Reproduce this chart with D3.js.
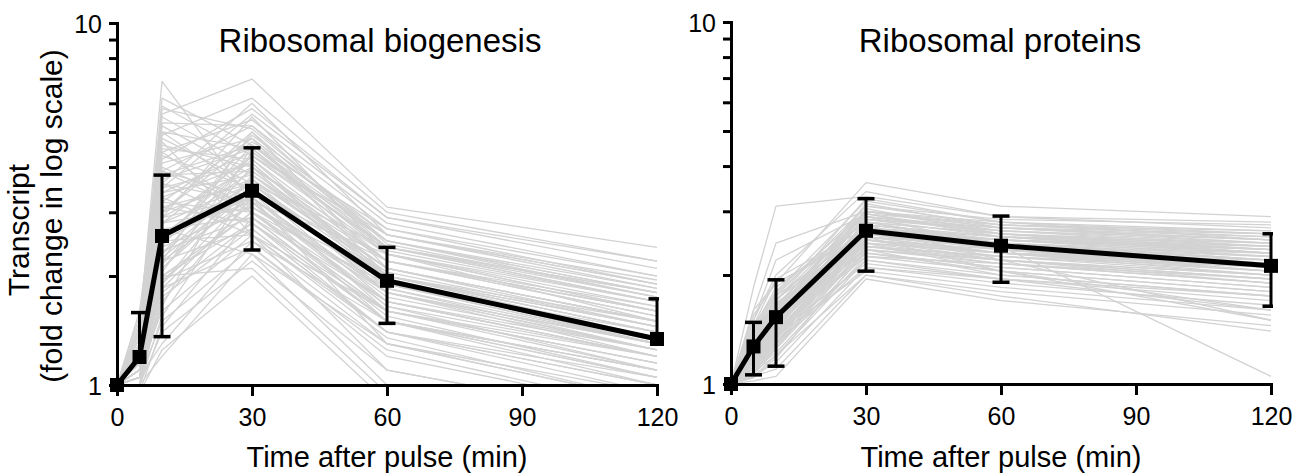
<!DOCTYPE html>
<html>
<head>
<meta charset="utf-8">
<script src="https://cdn.jsdelivr.net/npm/d3@7"></script>
<style>
  html, body { margin: 0; padding: 0; background: #fff; }
  svg { display: block; font-family: "Liberation Sans", Arial, Helvetica, sans-serif; }
</style>
</head>
<body>
<svg id="chart" width="1305" height="473"></svg>
<script>
// Sampling times (min after pulse)
const times = [0, 5, 10, 30, 60, 120];
const xTicks = [0, 30, 60, 90, 120];
const yTicks = [1, 2, 3, 4, 5, 6, 7, 8, 9, 10];
const yLabelled = [1, 10];

const panelTitles = ["Ribosomal biogenesis", "Ribosomal proteins"];
const xTitle = "Time after pulse (min)";
const yTitleLines = ["Transcript", "(fold change in log scale)"];

// Individual transcripts, fold change at each sampling time
const biogenesisGenes = [
  [1, 1.45, 6.9, 3.2, 2.3, 1.6],
  [1, 1.5, 5.9, 4.3, 2.6, 1.9],
  [1, 1.35, 5.6, 7.0, 3.1, 2.4],
  [1, 1.4, 4.9, 6.2, 3.0, 2.2],
  [1, 1.3, 5.2, 3.8, 2.1, 1.5],
  [1, 1.6, 4.7, 2.6, 1.6, 1.1],
  [1, 1.25, 4.4, 5.4, 2.8, 2.0],
  [1, 1.2, 4.1, 4.8, 2.5, 1.8],
  [1, 1.55, 3.9, 3.0, 1.7, 1.2],
  [1, 1.3, 3.7, 4.5, 2.2, 1.6],
  [1, 1.2, 3.5, 5.6, 2.9, 2.1],
  [1, 1.15, 3.3, 4.1, 2.0, 1.4],
  [1, 1.25, 3.1, 3.6, 1.9, 1.3],
  [1, 1.1, 3.0, 5.0, 2.4, 1.7],
  [1, 1.2, 2.9, 3.3, 1.8, 1.25],
  [1, 1.3, 2.8, 4.3, 2.3, 1.5],
  [1, 1.15, 2.7, 2.9, 1.5, 1.05],
  [1, 1.1, 2.6, 3.9, 2.1, 1.45],
  [1, 1.2, 2.5, 3.4, 1.6, 1.15],
  [1, 1.05, 2.45, 4.6, 2.7, 1.9],
  [1, 1.25, 2.4, 3.1, 2.0, 1.5],
  [1, 1.1, 2.3, 3.7, 1.8, 1.3],
  [1, 1.15, 2.2, 2.7, 1.4, 0.95],
  [1, 1.0, 2.15, 4.0, 2.2, 1.6],
  [1, 1.2, 2.1, 3.5, 1.7, 1.2],
  [1, 1.1, 2.0, 3.0, 1.9, 1.4],
  [1, 1.05, 1.95, 2.5, 1.3, 0.9],
  [1, 1.15, 1.9, 3.8, 2.0, 1.35],
  [1, 1.1, 1.85, 3.2, 1.5, 1.1],
  [1, 1.0, 1.8, 2.8, 1.6, 1.2],
  [1, 1.05, 1.7, 3.3, 1.8, 1.3],
  [1, 1.1, 1.6, 2.6, 1.4, 1.0],
  [1, 1.0, 1.55, 3.6, 2.4, 1.7],
  [1, 1.05, 1.5, 2.4, 1.2, 0.85],
  [1, 0.95, 1.45, 2.9, 1.7, 1.25],
  [1, 1.0, 1.4, 2.2, 1.1, 0.8],
  [1, 1.05, 1.3, 2.5, 1.5, 1.1],
  [1, 0.95, 1.25, 2.0, 0.9, 0.7],
  [1, 1.0, 1.2, 2.3, 1.3, 0.95],
  [1, 1.35, 5.0, 3.4, 2.0, 1.45],
  [1, 1.4, 4.6, 4.0, 2.3, 1.7],
  [1, 1.3, 4.3, 3.5, 1.9, 1.3],
  [1, 1.2, 4.0, 3.1, 1.8, 1.25],
  [1, 1.25, 3.8, 3.9, 2.1, 1.5],
  [1, 1.45, 3.6, 2.8, 1.4, 1.0],
  [1, 1.3, 3.4, 4.4, 2.4, 1.75],
  [1, 1.2, 3.2, 3.0, 1.6, 1.15],
  [1, 1.15, 3.0, 4.7, 2.6, 1.85],
  [1, 1.1, 2.8, 3.6, 2.0, 1.4],
  [1, 1.2, 2.65, 3.2, 1.7, 1.2],
  [1, 1.15, 2.55, 4.2, 2.2, 1.55],
  [1, 1.1, 2.35, 2.9, 1.5, 1.05],
  [1, 1.05, 2.25, 3.5, 1.9, 1.35],
  [1, 1.1, 2.05, 4.4, 2.5, 1.8],
  [1, 1.05, 1.95, 3.0, 1.6, 1.15],
  [1, 1.0, 1.75, 2.7, 1.4, 1.05],
  [1, 1.1, 5.3, 5.2, 2.7, 2.0],
  [1, 1.2, 4.2, 5.8, 2.9, 2.2],
  [1, 1.3, 3.6, 6.0, 2.6, 1.9],
  [1, 1.15, 2.9, 5.5, 2.3, 1.6],
  [1, 1.1, 2.2, 5.0, 2.1, 1.5],
  [1, 1.05, 1.65, 4.6, 2.5, 1.75],
  [1, 1.25, 6.2, 4.6, 2.4, 1.8],
  [1, 1.35, 5.8, 5.1, 2.5, 1.85],
  [1, 1.2, 3.3, 2.6, 1.1, 0.8],
  [1, 1.1, 2.7, 2.3, 1.0, 0.75],
  [1, 1.05, 2.0, 2.1, 0.95, 0.7],
  [1, 1.15, 3.9, 3.3, 1.3, 0.9],
  [1, 1.2, 3.4, 3.8, 2.2, 1.6],
  [1, 1.15, 2.9, 4.0, 1.9, 1.35],
  [1, 1.25, 4.5, 4.2, 2.0, 1.45],
  [1, 1.1, 2.6, 3.3, 1.75, 1.25],
  [1, 1.3, 3.8, 4.6, 2.3, 1.65],
  [1, 1.05, 2.1, 3.7, 2.1, 1.5],
  [1, 1.2, 3.1, 2.8, 1.5, 1.0],
  [1, 1.35, 4.8, 3.6, 1.8, 1.2],
  [1, 1.1, 2.4, 4.9, 2.6, 1.95],
  [1, 1.15, 3.6, 3.2, 1.65, 1.1],
  [1, 1.0, 1.9, 3.4, 2.2, 1.65],
  [1, 1.25, 3.2, 4.8, 2.0, 1.4],
  [1, 1.1, 2.5, 2.6, 1.35, 0.9],
  [1, 1.2, 4.4, 3.0, 1.55, 1.05],
  [1, 1.05, 2.3, 4.3, 2.4, 1.8],
  [1, 1.3, 5.5, 4.0, 2.2, 1.55],
  [1, 1.15, 2.8, 3.1, 1.85, 1.3],
  [1, 1.1, 3.5, 4.1, 1.95, 1.3],
  [1, 1.05, 1.85, 2.4, 1.25, 0.85],
  [1, 1.2, 3.0, 3.7, 2.05, 1.45],
  [1, 1.4, 5.0, 4.5, 2.35, 1.7],
  [1, 1.1, 2.2, 3.3, 1.65, 1.2],
  [1, 1.25, 3.9, 5.2, 2.45, 1.75],
  [1, 1.15, 2.6, 3.6, 1.85, 1.25],
  [1, 1.05, 2.0, 2.8, 1.5, 1.1]
];
const biogenesisMean = [1, 1.195, 2.58, 3.44, 1.94, 1.34];
const biogenesisSD = [0, 0.39, 1.22, 1.08, 0.46, 0.39];

const proteinGenes = [
  [1, 1.85, 3.1, 3.3, 2.9, 2.7],
  [1, 1.6, 2.45, 3.0, 2.7, 2.5],
  [1, 1.55, 1.9, 3.6, 3.1, 2.9],
  [1, 1.5, 2.0, 3.4, 2.9, 2.8],
  [1, 1.45, 1.8, 3.2, 2.8, 2.6],
  [1, 1.4, 1.75, 3.1, 2.75, 2.55],
  [1, 1.38, 1.7, 3.0, 2.7, 2.5],
  [1, 1.35, 1.65, 2.95, 2.6, 2.4],
  [1, 1.33, 1.6, 2.9, 2.65, 2.45],
  [1, 1.3, 1.62, 2.85, 2.55, 2.3],
  [1, 1.3, 1.55, 2.8, 2.6, 2.35],
  [1, 1.28, 1.58, 2.75, 2.5, 2.25],
  [1, 1.27, 1.5, 2.7, 2.45, 2.2],
  [1, 1.25, 1.52, 2.7, 2.5, 2.3],
  [1, 1.25, 1.48, 2.65, 2.4, 2.15],
  [1, 1.22, 1.45, 2.6, 2.45, 2.2],
  [1, 1.2, 1.42, 2.6, 2.35, 2.1],
  [1, 1.2, 1.4, 2.55, 2.3, 2.05],
  [1, 1.18, 1.38, 2.5, 2.35, 2.15],
  [1, 1.17, 1.35, 2.5, 2.25, 2.0],
  [1, 1.15, 1.33, 2.45, 2.2, 1.95],
  [1, 1.15, 1.3, 2.4, 2.25, 2.05],
  [1, 1.12, 1.28, 2.35, 2.15, 1.9],
  [1, 1.1, 1.25, 2.3, 2.1, 1.85],
  [1, 1.1, 1.22, 2.25, 2.05, 1.8],
  [1, 1.08, 1.2, 2.2, 2.0, 1.75],
  [1, 1.05, 1.15, 2.1, 1.9, 1.65],
  [1, 1.05, 1.1, 2.0, 1.8, 1.55],
  [1, 1.02, 1.05, 1.95, 1.7, 1.45],
  [1, 1.4, 1.68, 2.4, 2.15, 1.9],
  [1, 1.35, 1.6, 2.3, 2.05, 1.8],
  [1, 1.3, 1.72, 2.55, 2.05, 1.6],
  [1, 1.25, 1.55, 2.75, 2.2, 1.5],
  [1, 1.22, 1.5, 2.9, 2.4, 1.05],
  [1, 1.2, 1.45, 3.0, 2.8, 2.65],
  [1, 1.18, 1.62, 3.1, 2.85, 2.75],
  [1, 1.15, 1.4, 2.85, 2.7, 2.6],
  [1, 1.12, 1.35, 2.7, 2.55, 2.45],
  [1, 1.1, 1.45, 2.6, 2.5, 2.4],
  [1, 1.08, 1.3, 2.65, 2.5, 2.35],
  [1, 1.07, 1.28, 2.55, 2.4, 2.3],
  [1, 1.28, 1.65, 2.45, 2.3, 2.2],
  [1, 1.32, 1.75, 2.65, 2.35, 2.1],
  [1, 1.42, 1.85, 2.8, 2.45, 2.15],
  [1, 1.36, 1.78, 2.9, 2.6, 2.35],
  [1, 1.24, 1.6, 2.35, 2.2, 2.0],
  [1, 1.16, 1.42, 2.25, 2.15, 1.95],
  [1, 1.14, 1.38, 2.15, 1.95, 1.7],
  [1, 1.2, 1.5, 3.05, 2.6, 2.3],
  [1, 1.26, 1.57, 3.15, 2.7, 2.45],
  [1, 1.3, 1.7, 3.25, 2.8, 2.5],
  [1, 1.1, 1.32, 2.8, 2.45, 2.2],
  [1, 1.06, 1.25, 2.5, 2.3, 2.1],
  [1, 1.04, 1.18, 2.35, 2.2, 2.0],
  [1, 1.5, 2.2, 2.95, 2.55, 2.3],
  [1, 1.45, 1.95, 2.7, 2.35, 2.05],
  [1, 1.6, 1.9, 2.6, 2.3, 2.0],
  [1, 1.2, 1.36, 2.05, 1.85, 1.6],
  [1, 1.15, 1.3, 2.1, 1.95, 1.75],
  [1, 1.25, 1.48, 2.45, 2.05, 1.5],
  [1, 1.3, 1.6, 2.75, 2.55, 2.35],
  [1, 1.22, 1.48, 2.55, 2.4, 2.25],
  [1, 1.18, 1.45, 2.65, 2.45, 2.25],
  [1, 1.35, 1.7, 2.85, 2.65, 2.5],
  [1, 1.12, 1.34, 2.45, 2.3, 2.15],
  [1, 1.26, 1.55, 2.6, 2.35, 2.1],
  [1, 1.4, 1.8, 3.0, 2.75, 2.6],
  [1, 1.08, 1.26, 2.4, 2.2, 1.95],
  [1, 1.2, 1.44, 2.5, 2.3, 2.1],
  [1, 1.32, 1.62, 2.7, 2.5, 2.35],
  [1, 1.15, 1.4, 2.3, 2.1, 1.85],
  [1, 1.24, 1.52, 2.8, 2.6, 2.45],
  [1, 1.28, 1.58, 2.9, 2.7, 2.55],
  [1, 1.1, 1.3, 2.2, 1.95, 1.6],
  [1, 1.36, 1.66, 2.55, 2.3, 2.05],
  [1, 1.18, 1.4, 2.4, 2.25, 2.1],
  [1, 1.22, 1.46, 2.7, 2.5, 2.3],
  [1, 1.3, 1.55, 2.5, 2.2, 1.9],
  [1, 1.14, 1.36, 2.6, 2.45, 2.3],
  [1, 1.26, 1.6, 3.0, 2.65, 2.4],
  [1, 1.05, 1.2, 2.0, 1.75, 1.4],
  [1, 1.2, 1.5, 2.35, 2.0, 1.75],
  [1, 1.34, 1.64, 2.95, 2.75, 2.65],
  [1, 1.16, 1.38, 2.65, 2.4, 2.2],
  [1, 1.1, 1.35, 2.75, 2.55, 2.4]
];
const proteinMean = [1, 1.27, 1.53, 2.65, 2.41, 2.12];
const proteinSD = [0, 0.21, 0.41, 0.60, 0.50, 0.48];

const panels = [
  { title: panelTitles[0], genes: biogenesisGenes, mean: biogenesisMean, sd: biogenesisSD,
    left: 117, right: 657, top: 23, bottom: 385, titleX: 380, showYTitle: true },
  { title: panelTitles[1], genes: proteinGenes, mean: proteinMean, sd: proteinSD,
    left: 731, right: 1271, top: 22, bottom: 384, titleX: 1000, showYTitle: false }
];

const svg = d3.select("#chart");
svg.append("rect").attr("width", 1305).attr("height", 473).attr("fill", "#fff");
const defs = svg.append("defs");

panels.forEach((p, i) => {
  const x = d3.scaleLinear().domain([0, 120]).range([p.left, p.right]);
  const y = d3.scaleLog().domain([1, 10]).range([p.bottom, p.top]);
  const g = svg.append("g");

  const clipId = "plot-clip-" + i;
  defs.append("clipPath").attr("id", clipId)
    .append("rect")
    .attr("x", p.left).attr("y", p.top)
    .attr("width", p.right - p.left + 2).attr("height", p.bottom - p.top);

  const line = d3.line().x((d, k) => x(times[k])).y(d => y(d));

  // individual transcripts
  g.append("g").attr("clip-path", `url(#${clipId})`)
    .selectAll("path").data(p.genes).join("path")
    .attr("d", line)
    .attr("fill", "none")
    .attr("stroke", "#d2d2d2")
    .attr("stroke-width", 1.3)
    .attr("stroke-linejoin", "round");

  // axes
  const yAxis = d3.axisLeft(y)
    .tickValues(yTicks)
    .tickSize(8)
    .tickSizeOuter(0)
    .tickPadding(7)
    .tickFormat(d => yLabelled.includes(d) ? d3.format("d")(d) : "");
  const ya = g.append("g").attr("transform", `translate(${p.left},0)`).call(yAxis);

  const xAxis = d3.axisBottom(x)
    .tickValues(xTicks)
    .tickSize(11)
    .tickSizeOuter(0);
  const xa = g.append("g").attr("transform", `translate(0,${p.bottom})`).call(xAxis);

  [ya, xa].forEach(a => {
    a.select(".domain").attr("stroke", "#000").attr("stroke-width", 3).attr("stroke-linecap", "square");
    a.selectAll(".tick line").attr("stroke", "#000").attr("stroke-width", 3);
    a.selectAll(".tick text")
      .attr("fill", "#000")
      .style("font-size", "25px")
      .style("font-family", "'Liberation Sans', Arial, sans-serif");
  });
  xa.selectAll(".tick text").attr("y", 41).attr("dy", 0);
  ya.selectAll(".tick text").attr("dy", "0.36em");

  // mean ± SD
  const eb = g.append("g").attr("clip-path", `url(#${clipId})`);
  const capHalf = 8.5;
  p.mean.forEach((m, k) => {
    const s = p.sd[k];
    if (!s) return;
    const hi = m + s, lo = m - s;
    const cx = x(times[k]);
    const yLo = lo >= 1 ? y(lo) : y(m);
    eb.append("line").attr("x1", cx).attr("x2", cx)
      .attr("y1", y(hi)).attr("y2", yLo)
      .attr("stroke", "#000").attr("stroke-width", 3);
    eb.append("line").attr("x1", cx - capHalf).attr("x2", cx + capHalf)
      .attr("y1", y(hi)).attr("y2", y(hi))
      .attr("stroke", "#000").attr("stroke-width", 3.5);
    if (lo >= 1) {
      eb.append("line").attr("x1", cx - capHalf).attr("x2", cx + capHalf)
        .attr("y1", y(lo)).attr("y2", y(lo))
        .attr("stroke", "#000").attr("stroke-width", 3.5);
    }
  });

  g.append("path").datum(p.mean)
    .attr("d", line)
    .attr("fill", "none")
    .attr("stroke", "#000")
    .attr("stroke-width", 5)
    .attr("stroke-linejoin", "round");

  const sq = 14;
  g.selectAll("rect.marker").data(p.mean).join("rect")
    .attr("class", "marker")
    .attr("x", (d, k) => x(times[k]) - sq / 2)
    .attr("y", d => y(d) - sq / 2)
    .attr("width", sq).attr("height", sq)
    .attr("fill", "#000");

  // titles
  g.append("text")
    .attr("x", p.titleX).attr("y", 52)
    .attr("text-anchor", "middle")
    .style("font-size", "33px")
    .text(p.title);

  g.append("text")
    .attr("x", (p.left + p.right) / 2).attr("y", 467)
    .attr("text-anchor", "middle")
    .style("font-size", "29px")
    .text(xTitle);

  if (p.showYTitle) {
    const pos = [[29, 230], [62, 216]];
    yTitleLines.forEach((t, j) => {
      g.append("text")
        .attr("transform", `translate(${pos[j][0]},${pos[j][1]}) rotate(-90)`)
        .attr("text-anchor", "middle")
        .style("font-size", "30px")
        .text(t);
    });
  }
});
</script>
</body>
</html>
